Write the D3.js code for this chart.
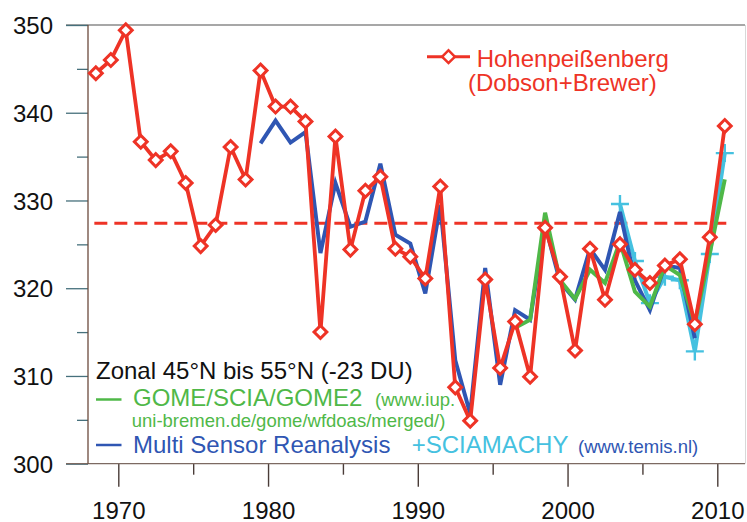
<!DOCTYPE html>
<html>
<head>
<meta charset="utf-8">
<script src="https://cdn.jsdelivr.net/npm/d3@7"></script>
<style>
  html, body { margin: 0; padding: 0; background: #ffffff; }
  svg { display: block; }
  text { font-family: "Liberation Sans", Arial, sans-serif; }
</style>
</head>
<body>
<svg id="chart" width="747" height="522"></svg>
<script>
// Total ozone, yearly means (DU)
const hpYears = [1968, 1969, 1970, 1971, 1972, 1973, 1974, 1975, 1976, 1977,
  1978, 1979, 1980, 1981, 1982, 1983, 1984, 1985, 1986, 1987, 1988, 1989,
  1990, 1991, 1992, 1993, 1994, 1995, 1996, 1997, 1998, 1999, 2000, 2001,
  2002, 2003, 2004, 2005, 2006, 2007, 2008, 2009, 2010];
const hohenpeissenberg = [344.5, 346.0, 349.4, 336.7, 334.6, 335.6, 332.0,
  324.8, 327.2, 336.1, 332.4, 344.8, 340.7, 340.7, 339.0, 315.0, 337.3, 324.4,
  331.1, 332.7, 324.5, 323.6, 321.1, 331.6, 308.7, 304.9, 321.0, 310.9, 316.2,
  309.9, 326.9, 321.3, 312.9, 324.5, 318.7, 325.0, 322.1, 320.6, 322.6, 323.3,
  315.9, 325.8, 338.5];

const msrYears = [1979, 1980, 1981, 1982, 1983, 1984, 1985, 1986, 1987, 1988,
  1989, 1990, 1991, 1992, 1993, 1994, 1995, 1996, 1997, 1998, 1999, 2000,
  2001, 2002, 2003, 2004, 2005, 2006, 2007, 2008];
const multiSensor = [336.5, 339.1, 336.6, 337.8, 324.0, 332.0, 327.0, 327.6,
  334.2, 326.1, 325.1, 319.4, 329.5, 311.8, 305.7, 322.3, 309.0, 317.5, 316.4,
  327.2, 320.7, 318.7, 324.5, 322.1, 328.7, 320.9, 317.5, 322.6, 322.3, 314.3];

const gomeYears = [1996, 1997, 1998, 1999, 2000, 2001, 2002, 2003, 2004, 2005,
  2006, 2007, 2008, 2009, 2010];
const gomeScia = [315.5, 316.4, 328.6, 320.9, 318.8, 322.1, 320.6, 325.3,
  319.6, 317.9, 322.6, 321.5, 316.0, 324.0, 332.4];

const sciaYears = [2003, 2004, 2005, 2006, 2007, 2008, 2009, 2010];
const sciamachy = [329.6, 323.1, 318.3, 321.3, 320.9, 312.8, 323.9, 335.4];

const hpMean = [327.4];

const yMajorTicks = [300, 310, 320, 330, 340, 350];
const yMinorTicks = [305, 315, 325, 335, 345];
const xMajorTicks = [1970, 1980, 1990, 2000, 2010];
const xMinorTicks = [1975, 1985, 1995, 2005];

const C = {
  red: "#ee3326",
  blue: "#2f56b3",
  green: "#4fb848",
  cyan: "#45c1e0",
  black: "#111111"
};

const svg = d3.select("#chart");
const plotLeft = 88, plotRight = 745, plotTop = 25, plotBottom = 463.7;

// yearly means are plotted at mid-year
const x = d3.scaleLinear().domain([1970, 2010]).range([118.3, 717.3]);
const y = d3.scaleLinear().domain([300, 350]).range([plotBottom, plotTop]);
const mid = yr => x(yr + 0.5);

// frame lines
svg.append("line").attr("x1", 66).attr("x2", plotRight).attr("y1", plotTop).attr("y2", plotTop)
  .attr("stroke", "#8a8a8a").attr("stroke-width", 1.3);
svg.append("line").attr("x1", plotRight + 0.5).attr("x2", plotRight + 0.5)
  .attr("y1", plotTop).attr("y2", plotBottom)
  .attr("stroke", "#d8d8d8").attr("stroke-width", 1);

// y axis
const yAxisMajor = d3.axisLeft(y).tickValues(yMajorTicks).tickSize(22).tickPadding(13)
  .tickFormat(d3.format("d"));
const yAxisMinor = d3.axisLeft(y).tickValues(yMinorTicks).tickSize(11).tickFormat("");
const gy = svg.append("g").attr("transform", `translate(${plotLeft},0)`).call(yAxisMajor);
const gy2 = svg.append("g").attr("transform", `translate(${plotLeft},0)`).call(yAxisMinor);
[gy, gy2].forEach(g => {
  g.select(".domain").remove();
  g.selectAll(".tick line").attr("stroke", "#46707c").attr("stroke-width", 1.3);
});
gy.selectAll(".tick text").attr("font-size", 24).attr("fill", C.black)
  .attr("font-family", "Liberation Sans, Arial, sans-serif").attr("dy", "0.36em");

// x axis
const xAxisMajor = d3.axisBottom(x).tickValues(xMajorTicks).tickSize(23).tickFormat(d3.format("d"));
const xAxisMinor = d3.axisBottom(x).tickValues(xMinorTicks).tickSize(11).tickFormat("");
const gx = svg.append("g").attr("transform", `translate(0,${plotBottom})`).call(xAxisMajor);
const gx2 = svg.append("g").attr("transform", `translate(0,${plotBottom})`).call(xAxisMinor);
[gx, gx2].forEach(g => {
  g.select(".domain").remove();
  g.selectAll(".tick line").attr("stroke", "#4a3c38").attr("stroke-width", 1.4);
});
gx.selectAll(".tick text").attr("font-size", 24).attr("fill", C.black)
  .attr("font-family", "Liberation Sans, Arial, sans-serif")
  .attr("y", 55.8).attr("dy", 0);

svg.append("line").attr("x1", 66).attr("x2", plotRight).attr("y1", plotBottom).attr("y2", plotBottom)
  .attr("stroke", "#7c6a62").attr("stroke-width", 1.3);
svg.append("line").attr("x1", plotLeft).attr("x2", plotLeft).attr("y1", plotTop).attr("y2", plotBottom)
  .attr("stroke", "#6b4a3c").attr("stroke-width", 1.3);

// long-term mean of the station record
svg.append("line")
  .attr("x1", x(1968.4)).attr("x2", x(2010.6))
  .attr("y1", y(hpMean[0])).attr("y2", y(hpMean[0]))
  .attr("stroke", C.red).attr("stroke-width", 3).attr("stroke-dasharray", "13,7");

const line = d3.line().x(d => mid(d[0])).y(d => y(d[1]));
const pairs = (ys, vs) => ys.map((yr, i) => [yr, vs[i]]);

const sciaData = pairs(sciaYears, sciamachy);
const msrData = pairs(msrYears, multiSensor);
const gomeData = pairs(gomeYears, gomeScia);
const hpData = pairs(hpYears, hohenpeissenberg);

svg.append("path").datum(sciaData).attr("d", line).attr("fill", "none")
  .attr("stroke", C.cyan).attr("stroke-width", 4).attr("stroke-linejoin", "miter");
svg.append("g").selectAll("path").data(sciaData).join("path")
  .attr("transform", d => `translate(${mid(d[0])},${y(d[1])})`)
  .attr("d", "M-9,0H9M0,-9V9")
  .attr("stroke", C.cyan).attr("stroke-width", 2.4).attr("fill", "none");

svg.append("path").datum(msrData).attr("d", line).attr("fill", "none")
  .attr("stroke", C.blue).attr("stroke-width", 4).attr("stroke-linejoin", "miter");

svg.append("path").datum(gomeData).attr("d", line).attr("fill", "none")
  .attr("stroke", C.green).attr("stroke-width", 4).attr("stroke-linejoin", "miter");

svg.append("path").datum(hpData).attr("d", line).attr("fill", "none")
  .attr("stroke", C.red).attr("stroke-width", 3.8).attr("stroke-linejoin", "miter");

const diamond = d3.symbol(d3.symbolSquare, 82);
svg.append("g").selectAll("path").data(hpData).join("path")
  .attr("transform", d => `translate(${mid(d[0])},${y(d[1])}) rotate(45)`)
  .attr("d", diamond)
  .attr("fill", "#ffffff").attr("stroke", C.red).attr("stroke-width", 3);

// station legend (top right)
const lg = svg.append("g");
lg.append("line").attr("x1", 427).attr("x2", 470).attr("y1", 56.7).attr("y2", 56.7)
  .attr("stroke", C.red).attr("stroke-width", 3);
lg.append("path").attr("transform", "translate(448.5,56.7) rotate(45)").attr("d", diamond)
  .attr("fill", "#ffffff").attr("stroke", C.red).attr("stroke-width", 2.5);
lg.append("text").attr("x", 476.7).attr("y", 66.7).attr("font-size", 24)
  .attr("fill", C.red).text("Hohenpeißenberg");
lg.append("text").attr("x", 468).attr("y", 90.8).attr("font-size", 24)
  .attr("fill", C.red).text("(Dobson+Brewer)");

// satellite legend (bottom left)
const lb = svg.append("g");
lb.append("text").attr("x", 96).attr("y", 379).attr("font-size", 24)
  .attr("fill", C.black).text("Zonal 45°N bis 55°N (-23 DU)");

lb.append("line").attr("x1", 96).attr("x2", 121.5).attr("y1", 399.5).attr("y2", 399.5)
  .attr("stroke", C.green).attr("stroke-width", 2.5);
const g1 = lb.append("text").attr("x", 133).attr("y", 406).attr("fill", C.green);
g1.append("tspan").attr("font-size", 24).text("GOME/SCIA/GOME2");
g1.append("tspan").attr("x", 375).attr("font-size", 18.5).text("(www.iup.");
lb.append("text").attr("x", 131.7).attr("y", 427).attr("font-size", 18.5)
  .attr("fill", C.green).text("uni-bremen.de/gome/wfdoas/merged/)");

lb.append("line").attr("x1", 96).attr("x2", 121.5).attr("y1", 445).attr("y2", 445)
  .attr("stroke", C.blue).attr("stroke-width", 2.5);
const b1 = lb.append("text").attr("y", 452.5);
b1.append("tspan").attr("x", 133).attr("font-size", 24).attr("fill", C.blue)
  .text("Multi Sensor Reanalysis");
b1.append("tspan").attr("x", 411.7).attr("font-size", 24).attr("fill", C.cyan)
  .text("+SCIAMACHY");
b1.append("tspan").attr("x", 578).attr("font-size", 18.5).attr("fill", C.blue)
  .text("(www.temis.nl)");
</script>
</body>
</html>
